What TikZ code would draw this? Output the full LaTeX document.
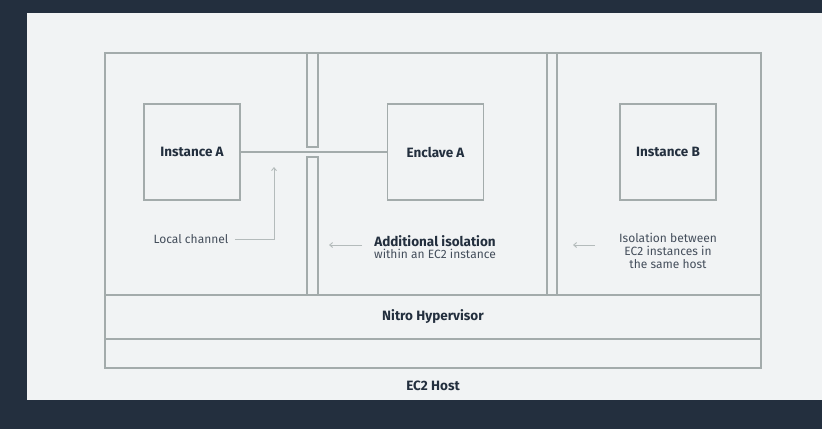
\documentclass[tikz,border=0pt]{standalone}
\usepackage{fontspec}
\setmainfont{Fira Sans}
\usetikzlibrary{arrows.meta, positioning}
\definecolor{navy}{HTML}{232F3E}
\definecolor{panel}{HTML}{F1F3F4}
\definecolor{wall}{HTML}{A3ABAB}
\definecolor{ink}{HTML}{232F3E}
\definecolor{pointer}{HTML}{B4BBBB}
\tikzset{
  vm/.style={draw=wall, line width=1.5pt, minimum width=96pt, minimum height=96pt, text=ink, font=\fontsize{13.5}{15}\selectfont\bfseries},
  wallline/.style={draw=wall, line width=1.5pt},
  title/.style={text=ink, font=\fontsize{13.5}{15}\selectfont\bfseries},
  note/.style={align=center, text=ink!85, font=\fontsize{12}{13}\selectfont},
  arrow/.style={-{Straight Barb[length=3pt, width=5pt]}, draw=pointer, line width=0.9pt}
}
\begin{document}
\begin{tikzpicture}[x=1pt, y=-1pt]
    % backdrop
    \fill[navy] (0,0) rectangle (822,429);
    \fill[panel] (27,13) rectangle (822,400);

    % host walls
    \draw[wallline] (105,53) rectangle (761,368);
    \draw[wallline] (105,295) -- (761,295);
    \draw[wallline] (105,339) -- (761,339);
    \draw[wallline] (307,53) rectangle (318,147);
    \draw[wallline] (307,157) rectangle (318,295);
    \draw[wallline] (547,53) rectangle (557,295);

    % instances
    \node[vm] (instA) at (192,152) {Instance A};
    \node[vm] (enclA) at (435.5,152) {Enclave A};
    \node[vm] (instB) at (668,152) {Instance B};
    \draw[wallline] (instA) -- (enclA);

    % notes
    \node[note] (local) at (191,239) {Local channel};
    \coordinate (chan) at (274,167);
    \draw[arrow] ([xshift=3pt]local.east) -| (chan);

    \node[align=center, text=ink] (addiso) at (435,247)
      {{\fontsize{13.5}{16}\selectfont\bfseries Additional isolation}\\
       {\fontsize{12}{13}\selectfont\color{ink!85}within an EC2 instance}};
    \coordinate (addtail) at (362,245);
    \coordinate (addtip) at (329,245);
    \draw[arrow] (addtail) -- (addtip);

    \node[note] (between) at (668,251) {Isolation between\\EC2 instances in\\the same host};
    \coordinate (btail) at (595,245);
    \coordinate (btip) at (573,245);
    \draw[arrow] (btail) -- (btip);

    % layers
    \node[title] (nitro) at (433,317) {Nitro Hypervisor};
    \node[title] (host) at (433,386) {EC2 Host};
\end{tikzpicture}
\end{document}
